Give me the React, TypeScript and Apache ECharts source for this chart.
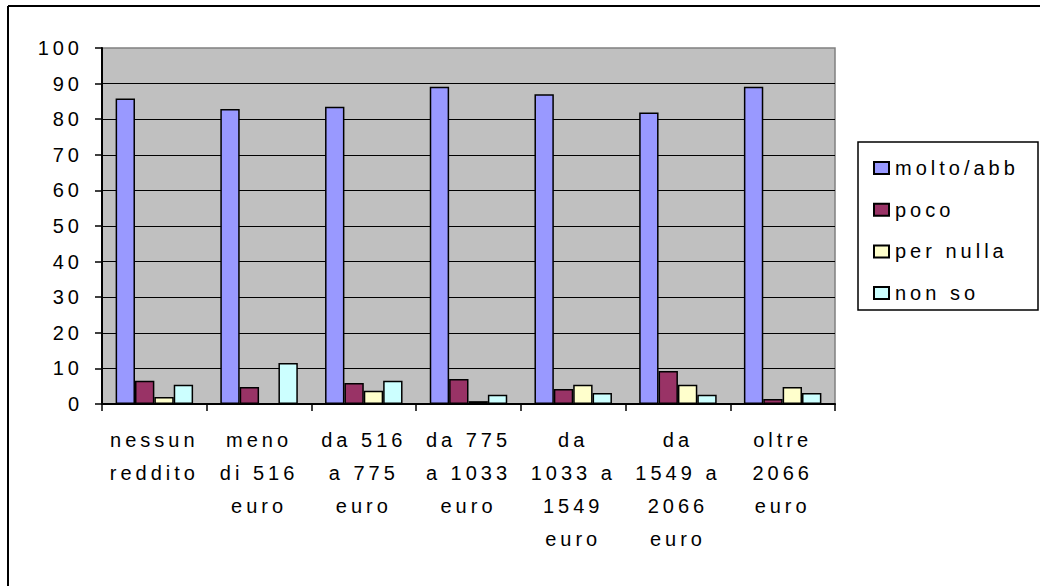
import React, { useEffect, useRef } from "react";
import * as echarts from "echarts";

const categories = [
  "nessun\nreddito",
  "meno\ndi 516\neuro",
  "da 516\na 775\neuro",
  "da 775\na 1033\neuro",
  "da\n1033 a\n1549\neuro",
  "da\n1549 a\n2066\neuro",
  "oltre\n2066\neuro",
];
const seriesNames = ["molto/abb", "poco", "per nulla", "non so"];
const molto = [85.8, 82.9, 83.5, 89.1, 87.0, 81.9, 89.1];
const poco = [6.5, 4.8, 5.9, 7.0, 4.2, 9.3, 1.4];
const perNulla = [2.0, 0, 3.7, 0.8, 5.4, 5.4, 4.8];
const nonSo = [5.4, 11.5, 6.5, 2.6, 3.1, 2.6, 3.1];
const colors = ["#9999FF", "#993366", "#FFFFCC", "#CCFFFF"];
const yMin = 0;
const yMax = 100;
const yStep = 10;

const FONT = "'Liberation Sans', Arial, sans-serif";

export default function App() {
  const ref = useRef<HTMLDivElement>(null);
  useEffect(() => {
    if (!ref.current) return;
    const chart = echarts.init(ref.current, undefined, { renderer: "svg" });
    const values = [molto, poco, perNulla, nonSo];
    chart.setOption({
      animation: false,
      backgroundColor: "#ffffff",
      textStyle: { fontFamily: FONT, color: "#000" },
      grid: {
        left: 102,
        top: 48,
        right: 205,
        bottom: 182,
        show: true,
        backgroundColor: "#C0C0C0",
        borderColor: "#808080",
        borderWidth: 1.5,
        containLabel: false,
      },
      legend: {
        orient: "vertical",
        left: 868,
        top: 153,
        itemWidth: 15,
        itemHeight: 12,
        itemGap: 21.7,
        icon: "rect",
        data: seriesNames,
        textStyle: {
          fontFamily: FONT,
          fontSize: 20,
          color: "#000",
          lineHeight: 20,
          padding: [0, 0, 0, 1],
        },
      },
      xAxis: {
        type: "category",
        data: categories,
        axisLine: { lineStyle: { color: "#000", width: 2 } },
        axisTick: { show: true, length: 7, inside: false, lineStyle: { color: "#000", width: 1.5 } },
        axisLabel: {
          interval: 0,
          fontFamily: FONT,
          fontSize: 20,
          color: "#000",
          lineHeight: 33,
          margin: 19,
        },
        splitLine: { show: false },
      },
      yAxis: {
        type: "value",
        min: yMin,
        max: yMax,
        interval: yStep,
        axisLine: { show: true, lineStyle: { color: "#000", width: 2 } },
        axisTick: { show: true, length: 7, inside: false, lineStyle: { color: "#000", width: 1.5 } },
        axisLabel: {
          fontFamily: FONT,
          fontSize: 20,
          color: "#000",
          margin: 19,
        },
        splitLine: {
          show: true,
          showMinLine: false,
          showMaxLine: false,
          lineStyle: { color: "#000", width: 1 },
        },
      },
      series: seriesNames.map((name, i) => ({
        name,
        type: "bar",
        data: values[i],
        barGap: "0%",
        barCategoryGap: "26%",
        itemStyle: { color: colors[i], borderColor: "#000", borderWidth: 1.5 },
      })),
      graphic: [
        {
          type: "line",
          shape: { x1: 8, y1: 6, x2: 1040, y2: 6 },
          style: { stroke: "#000", lineWidth: 2 },
        },
        {
          type: "line",
          shape: { x1: 8, y1: 6, x2: 8, y2: 586 },
          style: { stroke: "#000", lineWidth: 2 },
        },
        {
          type: "rect",
          shape: { x: 858, y: 142, width: 180, height: 168 },
          style: { fill: "none", stroke: "#000", lineWidth: 1.5 },
        },
      ],
    });
    return () => chart.dispose();
  }, []);
  return (
    <div
      ref={ref}
      style={{
        position: "fixed",
        left: 0,
        top: 0,
        width: 1040,
        height: 586,
        letterSpacing: "4px",
      }}
    />
  );
}
